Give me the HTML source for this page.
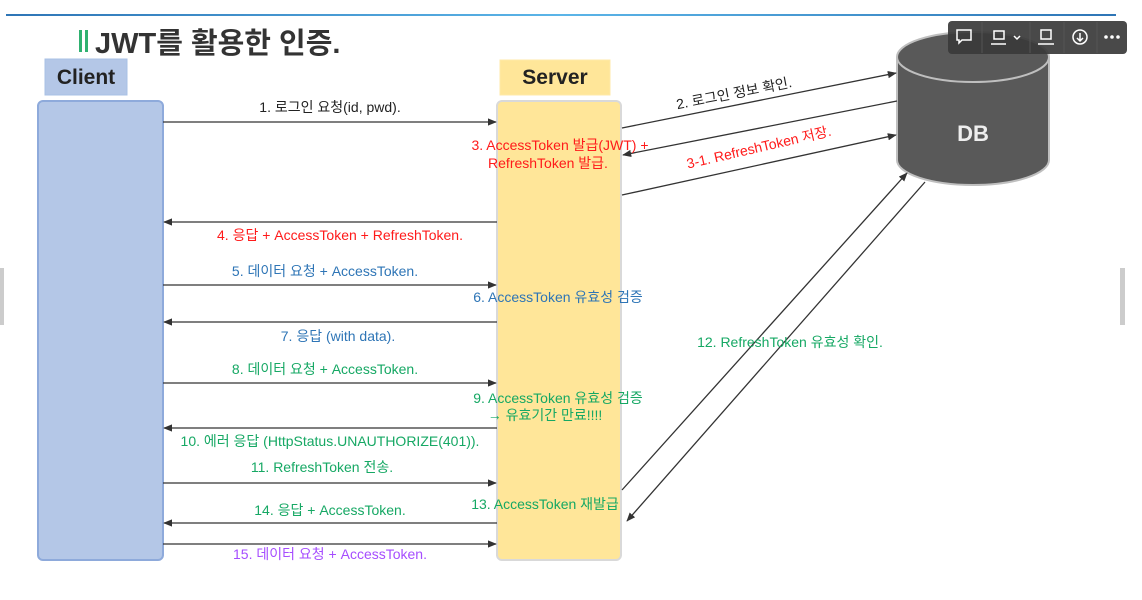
<!DOCTYPE html>
<html><head><meta charset="utf-8"><style>
html,body{margin:0;padding:0;background:#fff;width:1142px;height:600px;overflow:hidden}
svg{display:block}
text{font-family:"Liberation Sans","Noto Sans CJK KR",sans-serif;font-size:14px}
</style></head><body>
<svg width="1142" height="600" viewBox="0 0 1142 600">
<defs>
<marker id="a" viewBox="0 0 10 10" refX="9" refY="5" markerWidth="7" markerHeight="7" orient="auto-start-reverse"><path d="M0,1 L10,5 L0,9 z" fill="#333"/></marker>
<linearGradient id="tl" x1="0" x2="1"><stop offset="0" stop-color="#2e75b6"/><stop offset="0.5" stop-color="#5bb5e8"/><stop offset="1" stop-color="#2e75b6"/></linearGradient>
</defs>
<rect x="6" y="14" width="1110" height="2" fill="url(#tl)"/>
<rect x="0" y="268" width="4" height="57" fill="#ccc"/>
<rect x="1120" y="268" width="5" height="57" fill="#ccc"/>
<!-- title -->
<rect x="79" y="30" width="3" height="22" fill="#2fb170"/><rect x="85" y="30" width="3" height="22" fill="#2fb170"/>
<text x="95" y="53" font-weight="bold" fill="#333" style="font-size:29px">JWT를 활용한 인증.</text>
<!-- client -->
<rect x="45" y="59" width="82" height="36" fill="#b4c7e7" stroke="#a9c0e4"/>
<text x="86" y="84" text-anchor="middle" style="font-size:21px" font-weight="bold" fill="#222">Client</text>
<rect x="38" y="101" width="125" height="459" rx="5" fill="#b4c7e7" stroke="#8eaadb" stroke-width="2"/>
<!-- server -->
<rect x="500" y="60" width="110" height="35" fill="#ffe699" stroke="#ffe9a8"/>
<text x="555" y="84" text-anchor="middle" style="font-size:21px" font-weight="bold" fill="#222">Server</text>
<rect x="497" y="101" width="124" height="459" rx="5" fill="#ffe699" stroke="#d9d9d9" stroke-width="2"/>
<!-- DB -->
<path d="M897,57 L897,160 A76,25 0 0 0 1049,160 L1049,57" fill="#595959" stroke="#bfbfbf" stroke-width="2"/>
<ellipse cx="973" cy="57" rx="76" ry="25" fill="#595959" stroke="#bfbfbf" stroke-width="2"/>
<text x="973" y="141" text-anchor="middle" style="font-size:22px" font-weight="bold" fill="#eee">DB</text>
<!-- arrows -->
<g stroke="#333" stroke-width="1.3" fill="none">
<line x1="163" y1="122" x2="496" y2="122" marker-end="url(#a)"/>
<line x1="497" y1="222" x2="164" y2="222" marker-end="url(#a)"/>
<line x1="163" y1="285" x2="496" y2="285" marker-end="url(#a)"/>
<line x1="497" y1="322" x2="164" y2="322" marker-end="url(#a)"/>
<line x1="163" y1="383" x2="496" y2="383" marker-end="url(#a)"/>
<line x1="497" y1="428" x2="164" y2="428" marker-end="url(#a)"/>
<line x1="163" y1="483" x2="496" y2="483" marker-end="url(#a)"/>
<line x1="497" y1="523" x2="164" y2="523" marker-end="url(#a)"/>
<line x1="163" y1="544" x2="496" y2="544" marker-end="url(#a)"/>
<line x1="622" y1="128" x2="896" y2="73" marker-end="url(#a)"/>
<line x1="897" y1="101" x2="623" y2="155" marker-end="url(#a)"/>
<line x1="622" y1="195" x2="896" y2="135" marker-end="url(#a)"/>
<line x1="622" y1="490" x2="907" y2="173" marker-end="url(#a)"/>
<line x1="925" y1="182" x2="627" y2="521" marker-end="url(#a)"/>
</g>
<!-- labels -->
<g text-anchor="middle">
<text x="330" y="112" fill="#222">1. 로그인 요청(id, pwd).</text>
<text x="560" y="150" fill="#ff1a1a">3. AccessToken 발급(JWT) +</text>
<text x="548" y="168" fill="#ff1a1a">RefreshToken 발급.</text>
<text x="340" y="240" fill="#ff1a1a">4. 응답 + AccessToken + RefreshToken.</text>
<text x="325" y="276" fill="#2e75b6">5. 데이터 요청 + AccessToken.</text>
<text x="558" y="302" fill="#2e75b6">6. AccessToken 유효성 검증</text>
<text x="338" y="341" fill="#2e75b6">7. 응답 (with data).</text>
<text x="325" y="374" fill="#16a864">8. 데이터 요청 + AccessToken.</text>
<text x="558" y="403" fill="#16a864">9. AccessToken 유효성 검증</text>
<text x="545" y="420" fill="#16a864">→ 유효기간 만료!!!!</text>
<text x="330" y="446" fill="#16a864">10. 에러 응답 (HttpStatus.UNAUTHORIZE(401)).</text>
<text x="322" y="472" fill="#16a864">11. RefreshToken 전송.</text>
<text x="545" y="509" fill="#16a864">13. AccessToken 재발급</text>
<text x="330" y="515" fill="#16a864">14. 응답 + AccessToken.</text>
<text x="330" y="559" fill="#a64dff">15. 데이터 요청 + AccessToken.</text>
<text x="790" y="347" fill="#16a864">12. RefreshToken 유효성 확인.</text>
<text x="735" y="98" fill="#222" transform="rotate(-11 735 98)">2. 로그인 정보 확인.</text>
<text x="760" y="152" fill="#ff1a1a" transform="rotate(-13 760 152)">3-1. RefreshToken 저장.</text>
</g>
<!-- toolbar -->
<rect x="948" y="21" width="179" height="33" rx="4" fill="#3a3a3a" opacity="0.92"/>
<g stroke="#fff" stroke-width="1.5" fill="none">
<path d="M957,30 h14 v10 h-9 l-3,3 v-3 h-2 z"/>
<rect x="994" y="31" width="10" height="8"/><line x1="991" y1="44" x2="1006" y2="44"/><path d="M1014,36 l3,3 l3,-3"/>
<rect x="1041" y="30" width="10" height="9"/><line x1="1038" y1="44" x2="1054" y2="44"/>
<circle cx="1080" cy="37" r="7"/><path d="M1080,33 v7 M1077,38 l3,3 l3,-3"/>
</g>
<g fill="#fff"><circle cx="1106" cy="37" r="1.8"/><circle cx="1112" cy="37" r="1.8"/><circle cx="1118" cy="37" r="1.8"/></g>
<g stroke="#555"><line x1="982" y1="22" x2="982" y2="53"/><line x1="1030" y1="22" x2="1030" y2="53"/><line x1="1064" y1="22" x2="1064" y2="53"/><line x1="1097" y1="22" x2="1097" y2="53"/></g>
</svg>
</body></html>
